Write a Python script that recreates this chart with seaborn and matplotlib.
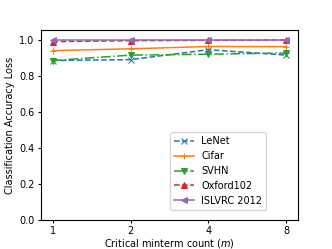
import pandas as pd
import numpy as np
import matplotlib
matplotlib.use("Agg")
import matplotlib.pyplot as plt
import seaborn as sns

# DATA
minterms = [1, 2, 4, 8]
lenet = [0.885, 0.890, 0.945, 0.915]
cifar = [0.940, 0.950, 0.963, 0.962]
svhn = [0.885, 0.915, 0.920, 0.927]
oxford = [0.990, 0.995, 0.997, 0.999]
islvrc = [1.000, 1.000, 1.000, 1.000]

series = {"LeNet": lenet, "Cifar": cifar, "SVHN": svhn,
          "Oxford102": oxford, "ISLVRC 2012": islvrc}
styles = {"LeNet": ("tab:blue", "x", "--"),
          "Cifar": ("tab:orange", "+", "-"),
          "SVHN": ("tab:green", "v", "-."),
          "Oxford102": ("tab:red", "^", "--"),
          "ISLVRC 2012": ("tab:purple", "<", "-")}

plt.rcParams["font.size"] = 7
plt.rcParams["xtick.major.size"] = 2.5
plt.rcParams["ytick.major.size"] = 2.5
plt.rcParams["xtick.major.pad"] = 1.8
plt.rcParams["ytick.major.pad"] = 2.2
plt.rcParams["axes.labelpad"] = 0.5

fig = plt.figure(figsize=(3.32, 2.49), dpi=100)
ax = fig.add_axes([0.123, 0.116, 0.775, 0.764])

for name, vals in series.items():
    color, marker, ls = styles[name]
    df = pd.DataFrame({"m": minterms, "loss": vals})
    sns.lineplot(data=df, x="m", y="loss", ax=ax, color=color, marker=marker,
                 linestyle=ls, label=name, markersize=5, linewidth=1.1,
                 markeredgecolor=color)

ax.set_xscale("log", base=2)
ax.set_xticks(minterms)
ax.set_xticklabels([str(m) for m in minterms])
ax.minorticks_off()
ax.set_ylim(0, 1.055)
ax.set_xlabel("Critical minterm count ($m$)")
ax.set_ylabel("Classification Accuracy Loss", labelpad=3)
ax.legend(loc="lower right", bbox_to_anchor=(0.895, 0.03))

plt.savefig("out.png", dpi=100)
